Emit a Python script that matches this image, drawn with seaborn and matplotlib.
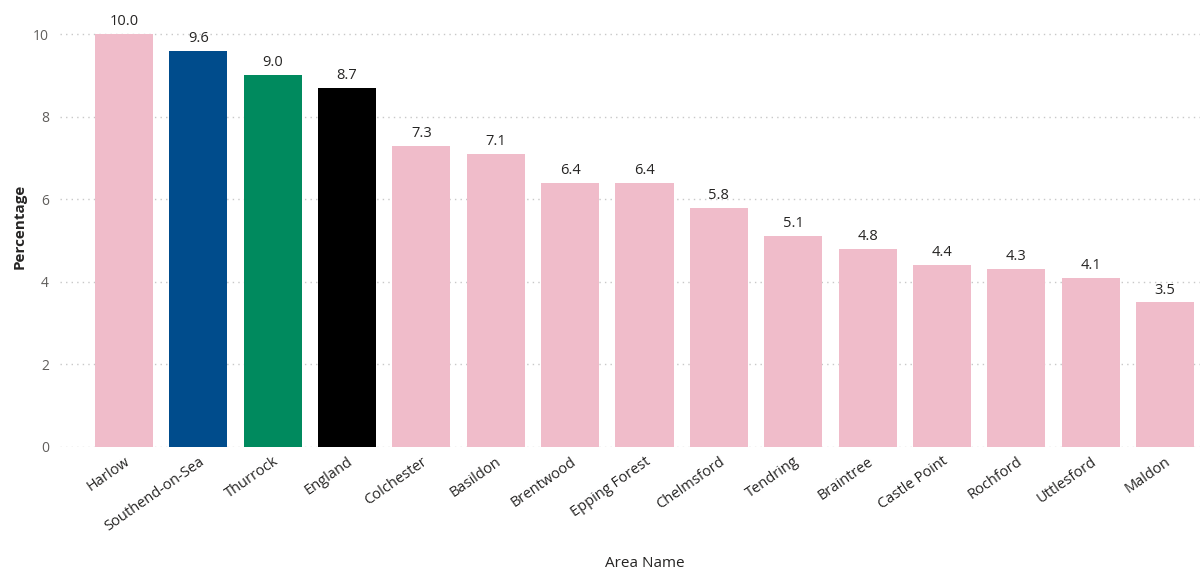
import matplotlib
matplotlib.use("Agg")
import matplotlib.pyplot as plt
import seaborn as sns
import pandas as pd

areas = ["Harlow", "Southend-on-Sea", "Thurrock", "England", "Colchester", "Basildon",
         "Brentwood", "Epping Forest", "Chelmsford", "Tendring", "Braintree",
         "Castle Point", "Rochford", "Uttlesford", "Maldon"]
values = [10.0, 9.6, 9.0, 8.7, 7.3, 7.1, 6.4, 6.4, 5.8, 5.1, 4.8, 4.4, 4.3, 4.1, 3.5]
colors = ["#F0BCCA", "#004C8C", "#008A5E", "#000000"] + ["#F0BCCA"] * 11

df = pd.DataFrame({"Area Name": areas, "Percentage": values})

sns.set_style("white")
plt.rcParams['font.family'] = ['Open Sans', 'DejaVu Sans']

fig = plt.figure(figsize=(12.02, 5.72), dpi=100)
ax = fig.add_axes([60/1202, 1-447/572, 1140/1202, (447-25)/572])

sns.barplot(data=df, x="Area Name", y="Percentage", hue="Area Name",
            palette=colors, legend=False, width=0.78, ax=ax, saturation=1,
            linewidth=0)

ax.set_xlim(-0.86, 14.47)
ax.set_ylim(0, 10.22)
ax.set_yticks([0, 2, 4, 6, 8, 10])
ax.yaxis.grid(True, linestyle=(0, (1, 3)), color="#C8C8C8", linewidth=1)
ax.set_axisbelow(True)
for s in ax.spines.values():
    s.set_visible(False)

for i, v in enumerate(values):
    ax.text(i, v + 0.12, f"{v:.1f}", ha="center", va="bottom", fontsize=10.5, color="#252423")

ax.tick_params(axis="y", labelsize=10, labelcolor="#605E5C", length=0, pad=8)
ax.tick_params(axis="x", labelsize=10.5, labelcolor="#252423", length=0, pad=5)
plt.setp(ax.get_xticklabels(), rotation=35, ha="right", rotation_mode="anchor")

ax.set_ylabel("Percentage", fontsize=11, color="#252423", fontweight="bold")
ax.set_xlabel("Area Name", fontsize=11, color="#252423")
ax.xaxis.set_label_coords((645-60)/1140, -(556-447)/422)
ax.yaxis.set_label_coords(-(60-27)/1140, (447-226)/422)

fig.savefig("out.png", dpi=100, facecolor="white")
